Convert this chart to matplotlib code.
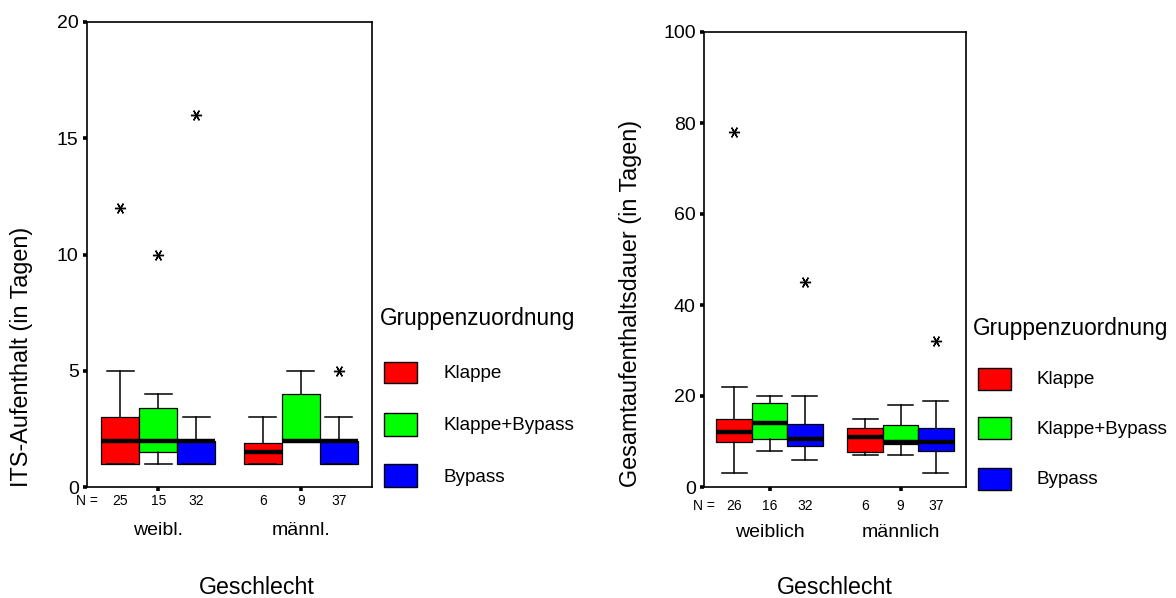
import matplotlib
matplotlib.use('Agg')
import matplotlib.pyplot as plt
from matplotlib.patches import Rectangle

plt.rcParams['font.family'] = ['Liberation Sans', 'DejaVu Sans']

groups = ['Klappe', 'Klappe+Bypass', 'Bypass']
colors = ['#ff0000', '#00ff00', '#0000ff']

# ITS-Aufenthalt: (q1, med, q3, whislo, whishi, fliers) per Geschlecht and Gruppe
its_sex = ['weibl.', 'männl.']
its_n = [[25, 15, 32], [6, 9, 37]]
its_stats = [
    [(1, 2, 3, 1, 5, [12]), (1.5, 2, 3.4, 1, 4, [10]), (1, 2, 2, 1, 3, [16])],
    [(1, 1.5, 1.9, 1, 3, []), (2, 2, 4, 2, 5, []), (1, 2, 2, 1, 3, [5])],
]

# Gesamtaufenthaltsdauer
ges_sex = ['weiblich', 'männlich']
ges_n = [[26, 16, 32], [6, 9, 37]]
ges_stats = [
    [(10, 12, 15, 3, 22, [78]), (10.6, 14, 18.5, 8, 20, []), (9, 10.6, 13.8, 6, 20, [45])],
    [(7.8, 11, 13, 7, 15, []), (9.5, 10, 13.7, 7, 18, []), (8, 10, 13, 3, 19, [32])],
]

W, H = 1176, 598
fig = plt.figure(figsize=(W / 100, H / 100), dpi=100)


def px(x, y):
    return x / W, 1 - y / H


def draw_panel(rect, stats, ns, sexes, ymax, yticks, width, n_off, cat_off):
    ax = fig.add_axes(rect)
    for g, row in enumerate(stats):
        for i, (q1, med, q3, lo, hi, fl) in enumerate(row):
            st = [dict(q1=q1, med=med, q3=q3, whislo=lo, whishi=hi, fliers=fl)]
            pos = g + 1 + (i - 1) * width
            ax.bxp(st, positions=[pos], widths=width, capwidths=width * 0.7,
                   patch_artist=True, showfliers=True,
                   boxprops=dict(facecolor=colors[i], edgecolor='black', linewidth=0.9),
                   medianprops=dict(color='black', linewidth=3.2, solid_capstyle='butt'),
                   whiskerprops=dict(color='black', linewidth=1.1),
                   capprops=dict(color='black', linewidth=1.1),
                   flierprops=dict(marker=(6, 2, 90), markersize=8,
                                   markeredgecolor='black', markeredgewidth=1.0))
            ax.annotate(str(ns[g][i]), xy=(pos, 0), xycoords=('data', 'axes fraction'),
                        xytext=(0, n_off), textcoords='offset points',
                        ha='center', va='center', fontsize=10)
        ax.annotate(sexes[g], xy=(g + 1, 0), xycoords=('data', 'axes fraction'),
                    xytext=(0, cat_off), textcoords='offset points',
                    ha='center', va='center', fontsize=14)
    ax.annotate('N =', xy=(0, 0), xycoords='axes fraction',
                xytext=(0, n_off), textcoords='offset points',
                ha='center', va='center', fontsize=10)
    ax.set_xlim(0.5, 2.5)
    ax.set_ylim(0, ymax)
    ax.set_yticks(yticks)
    ax.set_xticks([1, 2])
    ax.set_xticklabels(['', ''])
    ax.tick_params(axis='both', direction='out', length=3, width=2.6, labelsize=14, pad=3)
    for s in ax.spines.values():
        s.set_linewidth(1.2)
    return ax


x0, y1 = px(87, 22)
x1, y0 = px(372, 487)
draw_panel([x0, y0, x1 - x0, y1 - y0], its_stats, its_n, its_sex, 20,
           [0, 5, 10, 15, 20], 0.267, -10, -31)

x0, y1 = px(704, 32)
x1, y0 = px(966, 487)
draw_panel([x0, y0, x1 - x0, y1 - y0], ges_stats, ges_n, ges_sex, 100,
           [0, 20, 40, 60, 80, 100], 0.27, -13.5, -32.5)

# axis titles
fig.text(*px(22, 487), 'ITS-Aufenthalt (in Tagen)', rotation=90,
         ha='center', va='bottom', fontsize=16.8)
fig.text(*px(630, 487), 'Gesamtaufenthaltsdauer (in Tagen)', rotation=90,
         ha='center', va='bottom', fontsize=16.8)
fig.text(*px(257, 588), 'Geschlecht', ha='center', va='center', fontsize=16.7)
fig.text(*px(835, 588), 'Geschlecht', ha='center', va='center', fontsize=16.7)


def draw_legend(tx, ty, bx, by_list, lx, ly_list):
    fig.text(*px(tx, ty), 'Gruppenzuordnung', ha='left', va='center', fontsize=16.3)
    for i, name in enumerate(groups):
        top, bot = by_list[i]
        fx, fy = px(bx, bot)
        fig.add_artist(Rectangle((fx, fy), 33 / W, (bot - top) / H,
                                 transform=fig.transFigure, facecolor=colors[i],
                                 edgecolor='black', linewidth=1.0))
        fig.text(*px(lx, ly_list[i]), name, ha='left', va='center', fontsize=13.6)


draw_legend(380, 318, 384, [(362, 383), (413, 436), (464, 487)], 444, [374, 426, 477])
draw_legend(973, 328, 978, [(368, 390), (417, 439), (468, 490)], 1036, [380, 430, 479])

fig.savefig('out.png', dpi=100, facecolor='white')
